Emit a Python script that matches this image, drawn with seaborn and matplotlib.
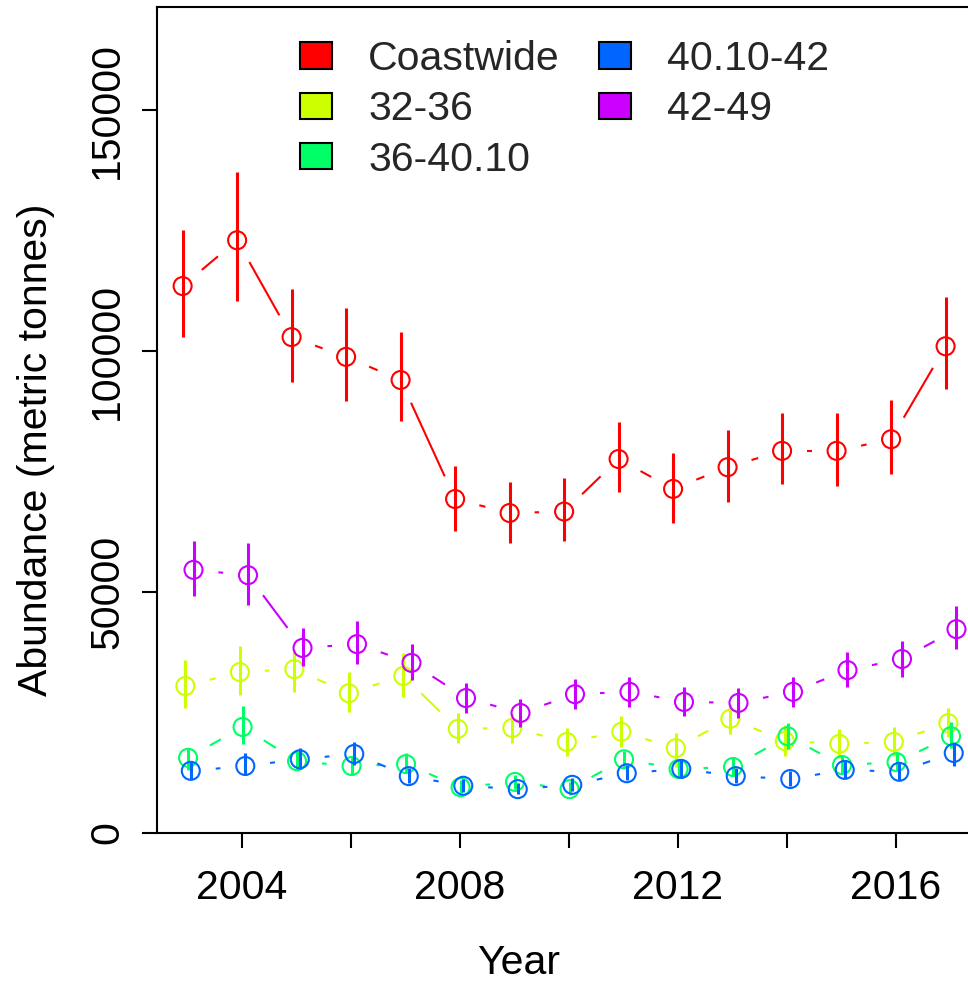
import numpy as np
import pandas as pd
import matplotlib
matplotlib.use('Agg')
import matplotlib.pyplot as plt
from matplotlib.patches import Patch
import seaborn as sns

# --- data ---
years = list(range(2003, 2018))
regions = ['Coastwide', '32-36', '36-40.10', '40.10-42', '42-49']
colors = ['#FF0000', '#CCFF00', '#00FF66', '#0066FF', '#CC00FF']

coastwide = [113500, 123000, 102900, 98800, 94000, 69300, 66400, 66700, 77600, 71400, 75900, 79300, 79300, 81700, 101000]
coastwide_lo = [102900, 110400, 93600, 89600, 85500, 62700, 60200, 60600, 70800, 64300, 68700, 72400, 72000, 74500, 92100]
coastwide_hi = [125100, 137100, 112900, 108900, 103900, 76100, 72800, 73700, 85300, 78800, 83600, 87100, 87100, 89800, 111200]

r32_36 = [30500, 33400, 34000, 29000, 32600, 21600, 21800, 18900, 21000, 17600, 23700, 19100, 18500, 18900, 22800]
r32_36_lo = [25900, 28600, 29300, 25100, 28200, 18700, 18700, 16000, 17800, 13700, 20500, 16000, 15600, 16000, 19900]
r32_36_hi = [35900, 38800, 38000, 33400, 37300, 24900, 24900, 21800, 24300, 20700, 26800, 22500, 21600, 22000, 25900]

r36_40 = [15600, 22000, 14900, 13900, 14300, 9500, 10600, 9100, 15300, 13300, 13700, 20100, 14100, 14700, 20100]
r36_40_lo = [13100, 18500, 13000, 12000, 12400, 8300, 9200, 7900, 13500, 11600, 11900, 17400, 12300, 12800, 17600]
r36_40_hi = [17600, 26300, 16800, 15800, 16600, 10900, 12100, 10500, 17000, 15200, 15700, 22800, 16100, 16800, 23000]

r40_42 = [12900, 13900, 15300, 16400, 11800, 9800, 9100, 10000, 12400, 13300, 11800, 11200, 13100, 12700, 16600]
r40_42_lo = [11300, 12000, 13300, 14100, 10300, 8600, 8000, 8800, 10900, 11700, 10300, 9800, 11500, 11100, 13900]
r40_42_hi = [14700, 16600, 17600, 18900, 13500, 11200, 10400, 11400, 14100, 15100, 13500, 12800, 14900, 14500, 18900]

r42_49 = [54600, 53500, 38400, 39200, 35300, 28000, 24900, 28800, 29300, 27200, 27000, 29300, 33800, 36100, 42300]
r42_49_lo = [49200, 47300, 34600, 35100, 31700, 24900, 22000, 25700, 26200, 24300, 23900, 26200, 30300, 32400, 38200]
r42_49_hi = [60600, 60200, 42500, 44000, 39200, 31100, 27800, 32000, 32400, 30300, 30100, 32400, 37600, 39800, 47100]

est = [coastwide, r32_36, r36_40, r40_42, r42_49]
lo = [coastwide_lo, r32_36_lo, r36_40_lo, r40_42_lo, r42_49_lo]
hi = [coastwide_hi, r32_36_hi, r36_40_hi, r40_42_hi, r42_49_hi]

frames = []
for i, reg in enumerate(regions):
    frames.append(pd.DataFrame({'year': years, 'region': reg, 'est': est[i],
                                'lo': lo[i], 'hi': hi[i]}))
df = pd.concat(frames, ignore_index=True)

# small horizontal dodge per region, like the original
dodge = dict(zip(regions, [-0.09, -0.04, 0.01, 0.06, 0.11]))
df['x'] = df['year'] + df['region'].map(dodge)

# --- style ---
sns.set_theme(style='ticks')
plt.rcParams['font.family'] = ['Liberation Sans', 'DejaVu Sans']
FS = 29.5

fig = plt.figure(figsize=(9.68, 9.84), dpi=100)
ax = fig.add_axes([157 / 968, 151 / 984, 824 / 968, 826 / 984])
ax.set_xlim(2002.44, 2017.56)
ax.set_ylim(0, 171400)


def gapped_lines(ax, xs, ys, gap_px, **kw):
    # R type="b": segments between points, cut back around each point
    pts = ax.transData.transform(np.column_stack([xs, ys]))
    inv = ax.transData.inverted()
    for p1, p2 in zip(pts[:-1], pts[1:]):
        d = p2 - p1
        L = np.hypot(*d)
        if L <= 2 * gap_px:
            continue
        u = d / L
        a, b = inv.transform([p1 + u * gap_px, p2 - u * gap_px])
        ax.plot([a[0], b[0]], [a[1], b[1]], **kw)


for i, (reg, col) in enumerate(zip(regions, colors)):
    sub = df[df['region'] == reg]
    z = 2 + i * 0.1
    ax.vlines(sub['x'], sub['lo'], sub['hi'], colors=col, linewidth=2.2, zorder=z)
    gapped_lines(ax, sub['x'].values, sub['est'].values, 25,
                 color=col, linewidth=1.5, solid_capstyle='butt', zorder=z)
    sns.scatterplot(x=sub['x'], y=sub['est'], ax=ax, marker='o', s=168,
                    color=col, facecolor='none', edgecolor=col, linewidth=1.5,
                    legend=False, zorder=z)

# --- axes ---
for s in ax.spines.values():
    s.set_linewidth(1.5)
    s.set_color('black')

ax.set_xticks(range(2004, 2017, 2))
ax.set_xticklabels(['2004', '', '2008', '', '2012', '', '2016'])
ax.set_yticks([0, 50000, 100000, 150000])
ax.set_yticklabels(['0', '50000', '100000', '150000'], rotation=90, va='center')
ax.tick_params(axis='both', direction='out', length=10.8, width=1.5,
               color='black', labelsize=FS, labelcolor='black')
ax.tick_params(axis='x', pad=15)
ax.tick_params(axis='y', pad=11.5)

ax.set_xlabel('Year', fontsize=FS, color='black')
ax.xaxis.set_label_coords((519 - 157) / 824, (833 - 944) / 826)
ax.set_ylabel('Abundance (metric tonnes)', fontsize=FS, color='black', va='center')
ax.yaxis.set_label_coords((36 - 157) / 824, (833 - 449.5) / 826)

handles = [Patch(facecolor=c, edgecolor='black', linewidth=1.5, label=r)
           for r, c in zip(regions, colors)]
ax.legend(handles=handles, ncol=2, loc='upper left',
          bbox_to_anchor=(300 / 968, 1 - 40 / 984), bbox_transform=fig.transFigure,
          frameon=False, fontsize=FS, handlelength=0.78, handleheight=0.61,
          handletextpad=0.88, columnspacing=0.95, labelspacing=0.3,
          borderpad=0, borderaxespad=0)

fig.savefig('out.png', dpi=100)
